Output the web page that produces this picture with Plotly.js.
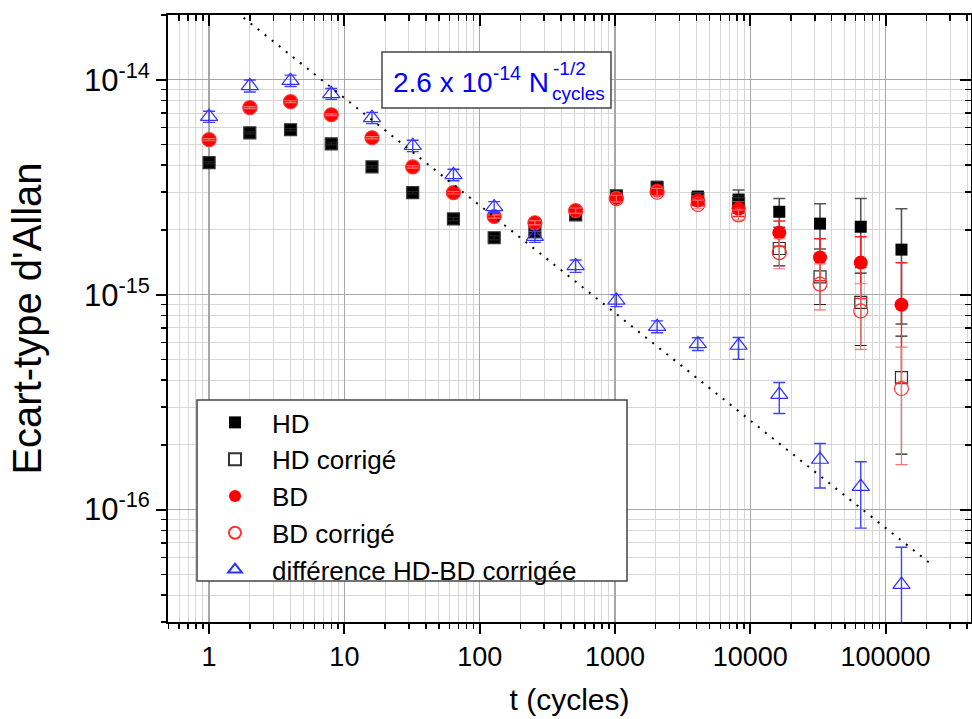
<!DOCTYPE html>
<html><head><meta charset="utf-8">
<script src="https://cdn.plot.ly/plotly-3.0.1.min.js"></script>
<style>body{margin:0;background:#fff}#chart{width:972px;height:719px}</style>
</head><body><div id="chart"></div>
<script>
// ---- data ----
const tCycles = [1,2,4,8,16,32,64,128,256,512,1024,2048,4096,8192,16384,32768,65536,131072];

const hd      = [4.11e-15,5.66e-15,5.85e-15,5.03e-15,3.93e-15,2.98e-15,2.25e-15,1.84e-15,1.96e-15,2.35e-15,2.88e-15,3.18e-15,2.86e-15,2.77e-15,2.43e-15,2.14e-15,2.07e-15,1.62e-15];
const hdErr   = [0.05e-15,0.06e-15,0.07e-15,0.06e-15,0.05e-15,0.04e-15,0.04e-15,0.04e-15,0.05e-15,0.07e-15,0.10e-15,0.12e-15,0.15e-15,0.30e-15,0.37e-15,0.51e-15,0.73e-15,0.89e-15];

const hdCorr    = [4.11e-15,5.66e-15,5.85e-15,5.03e-15,3.93e-15,2.98e-15,2.25e-15,1.84e-15,1.96e-15,2.35e-15,2.88e-15,3.15e-15,2.80e-15,2.65e-15,1.64e-15,1.21e-15,9.2e-16,4.11e-16];
const hdCorrErr = [0.05e-15,0.06e-15,0.07e-15,0.06e-15,0.05e-15,0.04e-15,0.04e-15,0.04e-15,0.05e-15,0.07e-15,0.10e-15,0.12e-15,0.15e-15,0.25e-15,0.28e-15,0.31e-15,0.34e-15,0.23e-15];

const bd      = [5.26e-15,7.41e-15,7.90e-15,6.87e-15,5.37e-15,3.93e-15,2.98e-15,2.31e-15,2.16e-15,2.46e-15,2.82e-15,3.05e-15,2.74e-15,2.51e-15,1.94e-15,1.49e-15,1.41e-15,8.98e-16];
const bdErr   = [0.06e-15,0.08e-15,0.08e-15,0.07e-15,0.06e-15,0.05e-15,0.04e-15,0.04e-15,0.05e-15,0.07e-15,0.10e-15,0.12e-15,0.15e-15,0.20e-15,0.26e-15,0.33e-15,0.45e-15,0.51e-15];

const bdCorr    = [5.26e-15,7.41e-15,7.90e-15,6.87e-15,5.37e-15,3.93e-15,2.98e-15,2.31e-15,2.16e-15,2.46e-15,2.80e-15,3.00e-15,2.63e-15,2.35e-15,1.57e-15,1.12e-15,8.4e-16,3.66e-16];
const bdCorrErr = [0.06e-15,0.08e-15,0.08e-15,0.07e-15,0.06e-15,0.05e-15,0.04e-15,0.04e-15,0.05e-15,0.07e-15,0.10e-15,0.12e-15,0.12e-15,0.13e-15,0.25e-15,0.27e-15,0.284e-15,0.204e-15];

const diff          = [6.73e-15,9.37e-15,9.90e-15,8.60e-15,6.65e-15,4.93e-15,3.61e-15,2.56e-15,1.86e-15,1.36e-15,9.4e-16,7.1e-16,5.9e-16,5.8e-16,3.43e-16,1.71e-16,1.28e-16,4.48e-17];
const diffErrPlus   = [0.40e-15,0.60e-15,0.60e-15,0.50e-15,0.40e-15,0.30e-15,0.22e-15,0.15e-15,0.11e-15,0.09e-15,0.60e-16,0.45e-16,0.40e-16,0.52e-16,0.47e-16,0.32e-16,0.39e-16,0.22e-16];
const diffErrMinus  = [0.40e-15,0.60e-15,0.60e-15,0.50e-15,0.40e-15,0.30e-15,0.22e-15,0.15e-15,0.11e-15,0.09e-15,0.60e-16,0.45e-16,0.40e-16,0.80e-16,0.63e-16,0.45e-16,0.46e-16,0.30e-16];

// fitted line 2.6e-14 * N^-1/2 (end points)
const fitT = [1.8, 210000];
const fitY = [1.94e-14, 5.67e-17];

// tick labels
const xTickVals = [1,10,100,1000,10000,100000];
const xTickText = ['1','10','100','1000','10000','100000'];
const yTickVals = [1e-16,1e-15,1e-14];
const yTickText = ['10<sup>-16</sup>','10<sup>-15</sup>','10<sup>-14</sup>'];

const seriesNames = ['HD','HD corrigé','BD','BD corrigé','différence HD-BD corrigée'];

// ---- minor tick positions (2..9 per decade) ----
function minorTicks(lo, hi){ const out=[]; for(let e=lo;e<=hi;e++){ for(let m=2;m<=9;m++){ out.push(m*Math.pow(10,e)); } } return out; }
const xMinor = minorTicks(-1,5);
const yMinor = minorTicks(-17,-14);

const FONT = '"Liberation Sans", Arial, sans-serif';
const L = 168, T = 15, W = 972-168-1, H = 719-15-97;
const px = x => (x-L)/W;
const py = y => 1-(y-T)/H;

function eb(arr, minus, color, thick){
  return {type:'data', array:arr, arrayminus: minus||arr, symmetric:false, visible:true, color:color, thickness:thick, width:6};
}

const traces = [
  {x:tCycles, y:hd, name:seriesNames[0], mode:'markers', type:'scatter',
   marker:{symbol:'square', size:12, color:'#000000'},
   error_y: eb(hdErr, null, '#555555', 1.6)},
  {x:tCycles, y:hdCorr, name:seriesNames[1], mode:'markers', type:'scatter',
   marker:{symbol:'square-open', size:12, color:'#333333', line:{width:1.2}},
   error_y: eb(hdCorrErr, null, '#222222', 1.2)},
  {x:tCycles, y:bd, name:seriesNames[2], mode:'markers', type:'scatter',
   marker:{symbol:'circle', size:14, color:'#ff0000'},
   error_y: eb(bdErr, null, '#ff2020', 1.4)},
  {x:tCycles, y:bdCorr, name:seriesNames[3], mode:'markers', type:'scatter',
   marker:{symbol:'circle-open', size:14, color:'#ff3030', line:{width:1.2}},
   error_y: eb(bdCorrErr, null, '#ff7070', 1.2)},
  {x:tCycles, y:diff, name:seriesNames[4], mode:'markers', type:'scatter',
   marker:{symbol:'triangle-up-open', size:15, color:'#3030ff', line:{width:1.2}},
   error_y: eb(diffErrPlus, diffErrMinus, '#4040ff', 1.4)},
  {x:fitT, y:fitY, mode:'lines', type:'scatter', showlegend:false, hoverinfo:'skip',
   line:{color:'#000000', width:2, dash:'2px,7px'}},
  {x:[], y:[], xaxis:'x2', yaxis:'y2', mode:'markers', type:'scatter', showlegend:false, hoverinfo:'skip'}
];

const xr = [Math.log10(0.497), Math.log10(4.28e5)];
const yr = [Math.log10(3.0e-17), Math.log10(2.0e-14)];

const layout = {
  width:972, height:719,
  margin:{l:L, r:1, t:T, b:97},
  paper_bgcolor:'#ffffff', plot_bgcolor:'#ffffff',
  font:{family:FONT, color:'#000000'},
  showlegend:true,
  legend:{x:px(198), y:py(399), xanchor:'left', yanchor:'top', bgcolor:'rgba(0,0,0,0)', borderwidth:0,
          font:{size:26, family:FONT}, itemsizing:'constant', tracegroupgap:0, itemwidth:64},
  xaxis:{type:'log', range:xr, tickmode:'array', tickvals:xTickVals, ticktext:xTickText,
         ticks:'outside', ticklen:10, tickwidth:2, tickcolor:'#000',
         showline:true, linecolor:'#000', linewidth:2, mirror:false,
         showgrid:true, gridcolor:'#a6a6a6', gridwidth:1.3, zeroline:false,
         tickfont:{size:27, family:FONT},
         minor:{tickmode:'array', tickvals:xMinor, ticks:'outside', ticklen:5, tickwidth:1.5, tickcolor:'#000', showgrid:true, gridcolor:'#d6d6d6', gridwidth:1},
         title:{text:'t (cycles)', font:{size:30, family:FONT}, standoff:18}},
  yaxis:{type:'log', range:yr, tickmode:'array', tickvals:yTickVals, ticktext:yTickText,
         ticks:'outside', ticklen:10, tickwidth:2, tickcolor:'#000',
         showline:true, linecolor:'#000', linewidth:2, mirror:false,
         showgrid:true, gridcolor:'#a6a6a6', gridwidth:1.3, zeroline:false,
         tickfont:{size:31, family:FONT},
         minor:{tickmode:'array', tickvals:yMinor, ticks:'outside', ticklen:5, tickwidth:1.5, tickcolor:'#000', showgrid:true, gridcolor:'#d6d6d6', gridwidth:1},
         title:{text:"Ecart-type d'Allan", font:{size:40, family:FONT}, standoff:30}},
  xaxis2:{type:'log', range:xr, overlaying:'x', side:'top', anchor:'y2', tickmode:'array', tickvals:xTickVals,
          ticks:'inside', ticklen:11, tickwidth:2, tickcolor:'#000', showticklabels:false,
          showline:true, linecolor:'#000', linewidth:2, showgrid:false, zeroline:false,
          minor:{tickmode:'array', tickvals:xMinor, ticks:'inside', ticklen:6, tickwidth:1.5, tickcolor:'#000', showgrid:false}},
  yaxis2:{type:'log', range:yr, overlaying:'y', side:'right', anchor:'x2', tickmode:'array', tickvals:yTickVals,
          ticks:'inside', ticklen:11, tickwidth:2, tickcolor:'#000', showticklabels:false,
          showline:true, linecolor:'#000', linewidth:2, showgrid:false, zeroline:false,
          minor:{tickmode:'array', tickvals:yMinor, ticks:'inside', ticklen:6, tickwidth:1.5, tickcolor:'#000', showgrid:false}},
  shapes:[
    {type:'rect', xref:'paper', yref:'paper', x0:px(382), x1:px(611), y0:py(108), y1:py(52),
     line:{color:'#444444', width:1.5}, fillcolor:'#ffffff', layer:'above'},
    {type:'rect', xref:'paper', yref:'paper', x0:px(197), x1:px(627), y0:py(581), y1:py(400),
     line:{color:'#444444', width:1.5}, fillcolor:'#ffffff', layer:'above'}
  ],
  annotations:[
    {xref:'paper', yref:'paper', x:px(551), y:py(80), xanchor:'right', yanchor:'middle', showarrow:false,
     text:'2.6 x 10<sup>-14</sup> N', font:{size:28, color:'#0000ff', family:FONT}},
    {xref:'paper', yref:'paper', x:px(551), y:py(68), xanchor:'left', yanchor:'middle', showarrow:false,
     text:'-1/2', font:{size:19, color:'#0000ff', family:FONT}},
    {xref:'paper', yref:'paper', x:px(550), y:py(93), xanchor:'left', yanchor:'middle', showarrow:false,
     text:'cycles', font:{size:19, color:'#0000ff', family:FONT}}
  ]
};

Plotly.newPlot('chart', traces, layout, {displayModeBar:false, staticPlot:true});
</script>
</body></html>
